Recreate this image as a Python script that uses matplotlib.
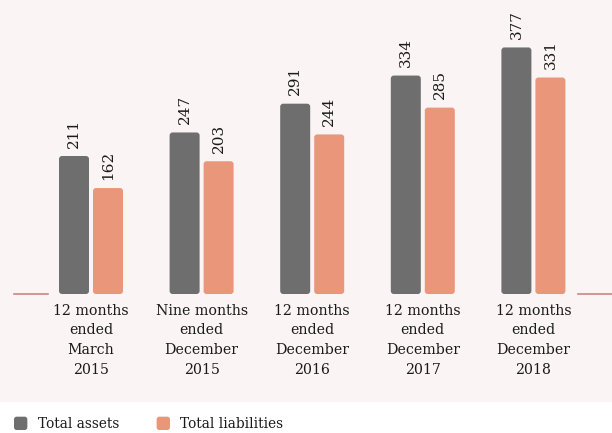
import matplotlib
matplotlib.use("Agg")
import matplotlib.pyplot as plt
from matplotlib.patches import FancyBboxPatch, Rectangle
from matplotlib.legend_handler import HandlerPatch
import numpy as np

categories = ["12 months\nended\nMarch\n2015", "Nine months\nended\nDecember\n2015",
              "12 months\nended\nDecember\n2016", "12 months\nended\nDecember\n2017",
              "12 months\nended\nDecember\n2018"]
total_assets = [211, 247, 291, 334, 377]
total_liabilities = [162, 203, 244, 285, 331]
series_names = ["Total assets", "Total liabilities"]
colors = ["#6e6e6e", "#e9967a"]

plt.rcParams['font.family'] = ['DejaVu Serif']
W, H = 612, 433
fig = plt.figure(figsize=(W / 100, H / 100), dpi=100, facecolor="white")
fig.patches.append(Rectangle((0, 31 / H), 1, 1 - 31 / H, transform=fig.transFigure,
                             facecolor="#faf4f4", edgecolor="none", zorder=-10))

base_px = 294
ax = fig.add_axes([0, (H - base_px) / H, 1, base_px / H])
ax.set_facecolor("none")
step = 110.6
x0 = 91
ax.set_xlim(-x0 / step, (W - x0) / step)
ymax = base_px / 0.654
ax.set_ylim(0, ymax)

x = np.arange(len(categories))
bw = 30 / step
off = 17 / step
r_px = 3
rx = r_px / step
ry = r_px * ymax / base_px

for vals, dx, c in [(total_assets, -off, colors[0]), (total_liabilities, off, colors[1])]:
    for xi, v in zip(x, vals):
        p = FancyBboxPatch((xi + dx - bw / 2, 0), bw, v,
                           boxstyle=f"round,pad=0,rounding_size={rx}",
                           mutation_aspect=ry / rx, facecolor=c, edgecolor="none")
        ax.add_patch(p)
        ax.annotate(str(v), (xi + dx, v), xytext=(0, 6), textcoords="offset points",
                    rotation=90, ha="center", va="bottom", fontsize=11, color="#1a1a1a")

# short baseline segments at left and right edges
ax.plot([14 / W, 48 / W], [0, 0], transform=ax.transAxes, color="#c48a80", lw=1.2, clip_on=False)
ax.plot([578 / W, 1], [0, 0], transform=ax.transAxes, color="#c48a80", lw=1.2, clip_on=False)

ax.set_xticks(x)
ax.set_xticklabels(categories, fontsize=10.2, color="#1a1a1a", linespacing=1.52)
ax.tick_params(axis="x", length=0, pad=7)
ax.set_yticks([])
for s in ax.spines.values():
    s.set_visible(False)


class RoundHandler(HandlerPatch):
    def create_artists(self, legend, orig_handle, xdescent, ydescent, width, height, fontsize, trans):
        size = 9.6
        p = FancyBboxPatch((-xdescent, -ydescent + (height - size) / 2), size, size,
                           boxstyle=f"round,pad=0,rounding_size={size*0.2}",
                           facecolor=orig_handle.get_facecolor(), edgecolor="none", transform=trans)
        return [p]


handles = [Rectangle((0, 0), 1, 1, facecolor=c) for c in colors]
leg = fig.legend(handles, series_names, loc="lower left", bbox_to_anchor=(14 / W, 2 / H),
                 ncol=2, frameon=False, fontsize=9.8, handlelength=1.0, handleheight=1.0,
                 handletextpad=0.75, columnspacing=2.75, borderaxespad=0, borderpad=0,
                 handler_map={Rectangle: RoundHandler()})
for t in leg.get_texts():
    t.set_color("#1a1a1a")

fig.savefig("out.png", dpi=100, facecolor="white")
